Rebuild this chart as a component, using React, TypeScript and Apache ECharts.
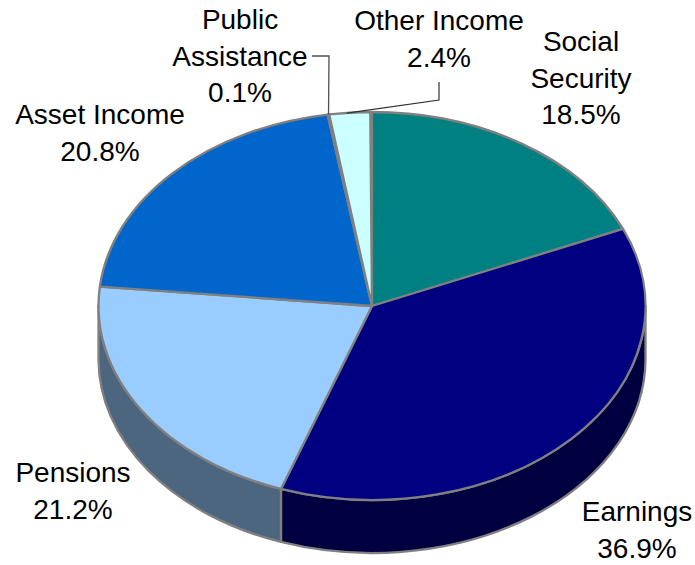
import React, { useEffect, useRef } from "react";
import * as echarts from "echarts";

const categories = ["Social Security", "Earnings", "Pensions", "Asset Income", "Public Assistance", "Other Income"];
const shares = [18.5, 36.9, 21.2, 20.8, 0.1, 2.4];
const labelLines = [["Social", "Security"], ["Earnings"], ["Pensions"], ["Asset Income"], ["Public", "Assistance"], ["Other Income"]];
const topColors = ["#008080", "#000080", "#99CCFF", "#0066CC", "#CCFFFF", "#CCFFFF"];
const wallColors = ["#004040", "#000040", "#4D6680", "#003366", "#668080", "#668080"];
const labelCentres = [[581, 78], [637, 530], [73, 491], [100, 133], [240, 56], [439, 39]];

const CX = 372, CY = 306, RX = 273.5, RY = 194, DEPTH = 53;
const BORDER = "#808080";
const FONT = '"Liberation Sans", Arial, sans-serif';

const pt = (deg: number, dy = 0) => {
  const t = (deg * Math.PI) / 180;
  return [CX + RX * Math.sin(t), CY - RY * Math.cos(t) + dy];
};
const rows = (() => {
  let acc = 0;
  return shares.map((v, i) => {
    const r = [(acc / 100) * 360, ((acc + v) / 100) * 360, i];
    acc += v;
    return r;
  });
})();

const arcTo = (deg: number, sweep: number, large: number, dy = 0) => {
  const p = pt(deg, dy);
  return `A${RX} ${RY} 0 ${large} ${sweep} ${p[0]} ${p[1]}`;
};

const renderTop = (_: any, api: any) => {
  const a = api.value(0), b = api.value(1), i = api.value(2);
  const s = pt(a);
  return {
    type: "path",
    shape: { pathData: `M${CX} ${CY}L${s[0]} ${s[1]}${arcTo(b, 1, b - a > 180 ? 1 : 0)}Z` },
    style: { fill: topColors[i], stroke: BORDER, lineWidth: 2.3, lineJoin: "round" },
  };
};
const renderWall = (_: any, api: any) => {
  const a = Math.max(api.value(0), 90), b = Math.min(api.value(1), 270), i = api.value(2);
  if (b <= a) return { type: "group", children: [] };
  const s = pt(a), e = pt(b, DEPTH);
  return {
    type: "path",
    shape: { pathData: `M${s[0]} ${s[1]}${arcTo(b, 1, 0)}L${e[0]} ${e[1]}${arcTo(a, 0, 0, DEPTH)}Z` },
    style: { fill: wallColors[i], stroke: BORDER, lineWidth: 2.3, lineJoin: "round" },
  };
};

export default function App() {
  const ref = useRef<HTMLDivElement>(null);
  useEffect(() => {
    const chart = echarts.init(ref.current!, null, { renderer: "svg" });
    const publicEdge = pt(rows[4][0]);
    const otherMid = pt((rows[5][0] + rows[5][1]) / 2);
    chart.setOption({
      animation: false,
      backgroundColor: "#fff",
      graphic: [
        ...categories.map((_, i) => ({
          type: "text",
          x: labelCentres[i][0],
          y: labelCentres[i][1],
          z: 10,
          style: {
            text: [...labelLines[i], `${shares[i].toFixed(1)}%`].join("\n"),
            font: `28px ${FONT}`,
            lineHeight: 36.5,
            fill: "#000",
            align: "center",
            verticalAlign: "middle",
          },
        })),
        {
          type: "polyline",
          z: 9,
          shape: { points: [[312, 56], [329, 56], [publicEdge[0] + 1, publicEdge[1]]] },
          style: { stroke: "#505050", lineWidth: 1.3, fill: "none" },
        },
        {
          type: "polyline",
          z: 9,
          shape: { points: [[439, 82], [439, 100], [otherMid[0] - 3, otherMid[1] + 0.5]] },
          style: { stroke: "#303030", lineWidth: 1.2, fill: "none" },
        },
      ],
      series: [
        { type: "custom", coordinateSystem: "none", renderItem: renderWall, data: rows, silent: true, z: 1 },
        { type: "custom", coordinateSystem: "none", renderItem: renderTop, data: rows, silent: true, z: 2 },
      ],
    });
    return () => chart.dispose();
  }, []);
  return <div ref={ref} style={{ position: "fixed", left: 0, top: 0, width: 695, height: 565 }} />;
}
